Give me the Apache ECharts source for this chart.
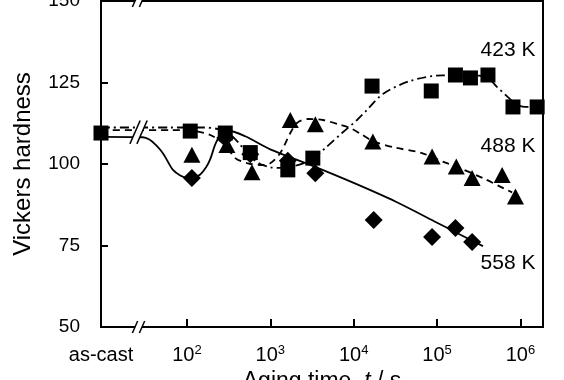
<!DOCTYPE html>
<html><head><meta charset="utf-8">
<script src="https://cdn.jsdelivr.net/npm/echarts@6.0.0/dist/echarts.min.js"></script>
<style>html,body{margin:0;padding:0;background:#fff}#c{width:564px;height:380px}</style>
</head><body><div id="c"></div>
<script>
// x is log10(aging time / s); the as-cast state sits at the left edge
const AS_CAST = 0.97;
const X_MAX = 6.27;
const xTickVals = [2, 3, 4, 5, 6];
const xTickExp = ['2', '3', '4', '5', '6'];
const yTicks = [50, 75, 100, 125, 150];

// measured points
const squares423 = [[0.97,109.5],[2.04,110.1],[2.46,109.5],[2.76,103.5],[3.21,98.2],[3.51,101.8],[4.22,123.9],[4.93,122.4],[5.22,127.3],[5.40,126.4],[5.61,127.3],[5.91,117.5],[6.20,117.5]];
const triangles488 = [[2.06,102.8],[2.48,105.8],[2.78,97.5],[3.24,113.5],[3.54,112.2],[4.23,106.9],[4.94,102.3],[5.23,99.2],[5.42,95.7],[5.78,96.6],[5.94,90.0]];
const diamonds558 = [[2.06,95.7],[2.46,108.0],[2.76,103.0],[3.21,101.0],[3.54,97.2],[4.24,82.8],[4.94,77.6],[5.22,80.4],[5.42,76.1]];

// fitted guide curves
const curve423 = [[0.97,111.2],[1.8,111.2],[2.2,111.2],[2.4,110.6],[2.5,109.5],[2.62,106.5],[2.75,102.5],[2.88,100],[3.0,99],[3.15,98.8],[3.35,99.8],[3.5,101.5],[3.66,104.9],[3.86,109.5],[4.04,113.5],[4.16,116.6],[4.35,121.5],[4.68,125.5],[5.07,127.2],[5.4,127.2],[5.6,126.6],[5.72,123.6],[5.85,120.5],[5.95,118.3],[6.05,117.5],[6.27,117.5]];
const curve488 = [[0.97,110.4],[1.8,110.4],[2.1,110.1],[2.28,108.9],[2.46,105.8],[2.58,101.8],[2.72,100.3],[2.88,99.7],[3.0,100.2],[3.12,103.4],[3.24,109.5],[3.32,112.6],[3.45,113.8],[3.63,113.5],[3.84,112],[3.96,111],[4.1,109],[4.23,107],[4.5,105],[4.8,103.5],[5.1,100.4],[5.25,99],[5.58,95.3],[5.8,92.5],[5.9,91.3]];
const curve558 = [[0.97,108.3],[1.47,108.2],[1.55,107.5],[1.63,105.8],[1.71,103.4],[1.77,100.8],[1.83,98.3],[1.92,96.5],[2.0,95.8],[2.08,95.9],[2.16,96.8],[2.23,99],[2.28,101.5],[2.34,106],[2.4,108.8],[2.5,110.2],[2.7,108.5],[3.0,104.5],[3.5,99.5],[4.0,94.2],[4.5,88.5],[5.0,82],[5.25,78.7],[5.55,74.8]];

// axis / curve breaks: [x, lowValue, highValue]
const breakMarks = [[1.42,50,50],[1.42,150,150],[1.42,108,111.5]];

// curve labels: [x (right edge), y, text]
const curveLabels = [[6.18,135,'423 K'],[6.18,105.4,'488 K'],[6.18,69.6,'558 K']];

const FONT = '"Liberation Sans", Arial, Helvetica, sans-serif';
const TXT = '#000';

const chart = echarts.init(document.getElementById('c'), null, {renderer:'canvas', width:564, height:380});

const option = {
  animation: false,
  grid: {left:101, right:21, top:1, bottom:53, containLabel:false, outerBoundsMode:'none',
         show:true, borderColor:'#000', borderWidth:2, backgroundColor:'transparent'},
  xAxis: {
    type:'value', min:AS_CAST, max:X_MAX,
    axisLine:{show:true, onZero:false, lineStyle:{color:'#000', width:2}},
    axisTick:{show:true, inside:true, length:8, lineStyle:{color:'#000', width:2}, customValues:xTickVals},
    splitLine:{show:false},
    axisLabel:{
      customValues:[AS_CAST].concat(xTickVals),
      margin:17, color:TXT, fontFamily:FONT, fontSize:20,
      formatter:function(v){
        if (Math.abs(v - AS_CAST) < 1e-6) return '{b|as-cast}';
        const i = xTickVals.indexOf(Math.round(v));
        return '{b|10}{s|' + xTickExp[i] + '}';
      },
      rich:{
        b:{fontFamily:FONT, fontSize:20, color:TXT, lineHeight:22},
        s:{fontFamily:FONT, fontSize:13, color:TXT, verticalAlign:'top', lineHeight:22, padding:[0,0,8,0]}
      }
    },
    name:'{n|Aging time, }{i|t}{n| / s}', nameLocation:'middle', nameGap:42,
    nameTextStyle:{
      rich:{
        n:{fontFamily:FONT, fontSize:23, color:TXT},
        i:{fontFamily:FONT, fontSize:23, color:TXT, fontStyle:'italic'}
      }
    }
  },
  yAxis: {
    type:'value', min:yTicks[0], max:yTicks[yTicks.length-1], interval:25,
    axisLine:{show:true, onZero:false, lineStyle:{color:'#000', width:2}},
    axisTick:{show:true, inside:true, length:7, lineStyle:{color:'#000', width:2}},
    splitLine:{show:false},
    axisLabel:{margin:21, color:TXT, fontFamily:FONT, fontSize:19},
    name:'Vickers hardness', nameLocation:'middle', nameGap:66, nameRotate:90,
    nameTextStyle:{fontFamily:FONT, fontSize:24, color:TXT}
  },
  series: [
    {type:'line', data:curve423, showSymbol:false, smooth:0.3, z:2,
     lineStyle:{color:'#000', width:1.8, type:[9,4,2,4]}},
    {type:'line', data:curve488, showSymbol:false, smooth:0.3, z:2,
     lineStyle:{color:'#000', width:1.8, type:[7,5]}},
    {type:'line', data:curve558, showSymbol:false, smooth:0.3, z:2,
     lineStyle:{color:'#000', width:1.8, type:'solid'}},
    {type:'custom', data:breakMarks, clip:false, z:5, silent:true,
     renderItem:function(params, api){
       const x = api.value(0);
       const pLo = api.coord([x, api.value(1)]);
       const pHi = api.coord([x, api.value(2)]);
       const cx = pLo[0];
       const yb = pLo[1] + 6, yt = pHi[1] - 6;
       const s = (yb - yt) * 0.22;
       const g = 3.5;
       return {type:'group', children:[
         {type:'polygon', shape:{points:[[cx-g-s,yb],[cx-g+s,yt],[cx+g+s,yt],[cx+g-s,yb]]}, style:{fill:'#fff'}},
         {type:'line', shape:{x1:cx-g-s,y1:yb,x2:cx-g+s,y2:yt}, style:{stroke:'#000', lineWidth:1.5}},
         {type:'line', shape:{x1:cx+g-s,y1:yb,x2:cx+g+s,y2:yt}, style:{stroke:'#000', lineWidth:1.5}}
       ]};
     }},
    {type:'scatter', data:diamonds558, symbol:'diamond', symbolSize:18, z:6,
     itemStyle:{color:'#000', opacity:1}},
    {type:'scatter', data:triangles488, symbol:'triangle', symbolSize:[17,16], z:6,
     itemStyle:{color:'#000', opacity:1}},
    {type:'scatter', data:squares423, symbol:'rect', symbolSize:15, z:7,
     itemStyle:{color:'#000', opacity:1}},
    {type:'scatter', data:curveLabels.map(function(d){return {value:[d[0], d[1]], name:d[2]};}),
     symbolSize:0, z:8, silent:true, itemStyle:{opacity:1},
     label:{show:true, formatter:'{b}', position:[0,0], align:'right', verticalAlign:'middle',
            fontFamily:FONT, fontSize:21, color:TXT, opacity:1}}
  ]
};
chart.setOption(option);
</script>
</body></html>
